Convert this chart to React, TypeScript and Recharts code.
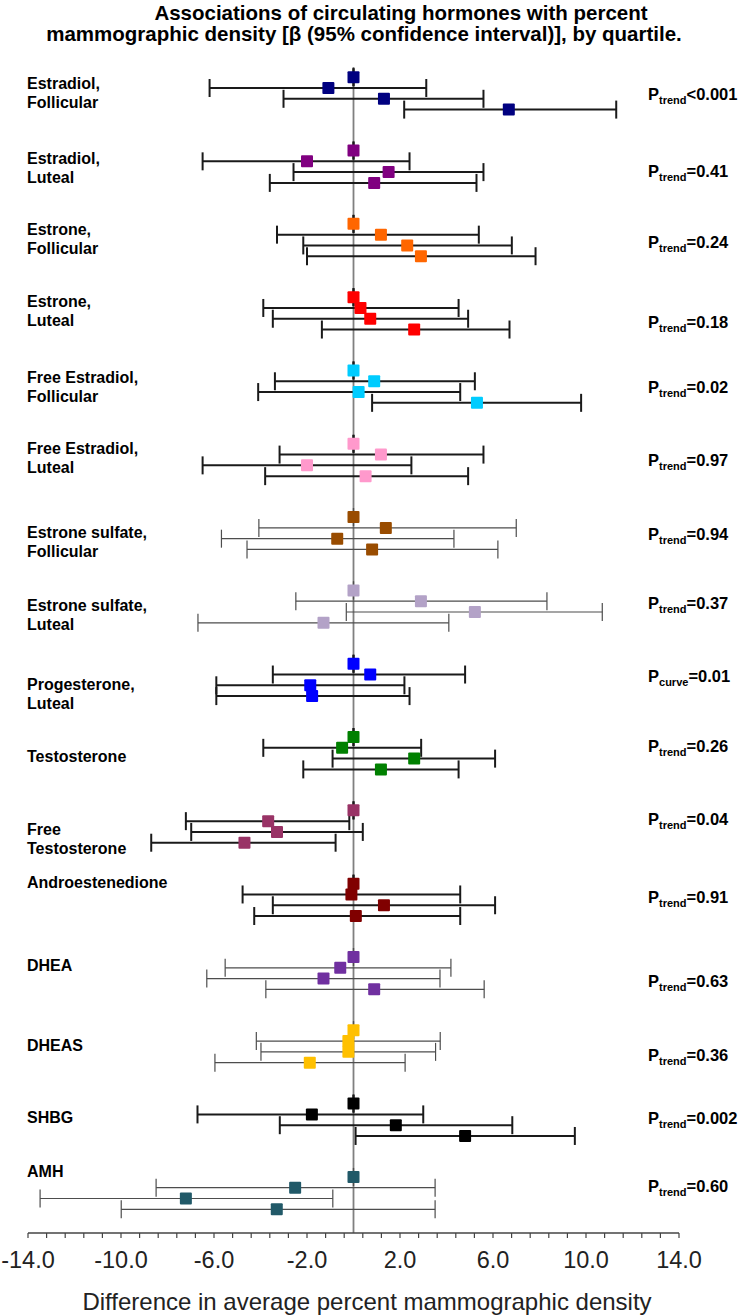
import React from 'react';
import { ScatterChart, Scatter, XAxis, YAxis, ErrorBar, ReferenceLine } from 'recharts';

// ---------- DATA ----------
const hormones: string[][] = [
  ['Estradiol,', 'Follicular'],
  ['Estradiol,', 'Luteal'],
  ['Estrone,', 'Follicular'],
  ['Estrone,', 'Luteal'],
  ['Free Estradiol,', 'Follicular'],
  ['Free Estradiol,', 'Luteal'],
  ['Estrone sulfate,', 'Follicular'],
  ['Estrone sulfate,', 'Luteal'],
  ['Progesterone,', 'Luteal'],
  ['Testosterone'],
  ['Free', 'Testosterone'],
  ['Androestenedione'],
  ['DHEA'],
  ['DHEAS'],
  ['SHBG'],
  ['AMH'],
];

const pSubscripts = ['trend', 'trend', 'trend', 'trend', 'trend', 'trend', 'trend', 'trend', 'curve', 'trend', 'trend', 'trend', 'trend', 'trend', 'trend', 'trend'];
const pValues = ['<0.001', '=0.41', '=0.24', '=0.18', '=0.02', '=0.97', '=0.94', '=0.37', '=0.01', '=0.26', '=0.04', '=0.91', '=0.63', '=0.36', '=0.002', '=0.60'];

// beta by quartile (Q1 = reference)
const beta: number[][] = [
  [0, -1.08, 1.31, 6.68],
  [0, -2.0, 1.51, 0.89],
  [0, 1.18, 2.31, 2.9],
  [0, 0.3, 0.72, 2.61],
  [0, 0.89, 0.22, 5.31],
  [0, 1.18, -2.0, 0.52],
  [0, 1.39, -0.7, 0.8],
  [0, 2.9, 5.22, -1.29],
  [0, 0.72, -1.86, -1.78],
  [0, -0.49, 2.61, 1.18],
  [0, -3.67, -3.29, -4.69],
  [0, -0.09, 1.31, 0.1],
  [0, -0.57, -1.29, 0.89],
  [0, -0.22, -0.22, -1.88],
  [0, -1.79, 1.82, 4.8],
  [0, -2.51, -7.21, -3.3],
];
const ciLow: (number | null)[][] = [
  [null, -6.19, -3.01, 2.18],
  [null, -6.49, -2.58, -3.6],
  [null, -3.29, -2.16, -2.0],
  [null, -3.88, -3.47, -1.36],
  [null, -3.38, -4.1, 0.8],
  [null, -3.18, -6.49, -3.8],
  [null, -4.07, -5.68, -4.58],
  [null, -2.48, -0.31, -6.69],
  [null, -3.47, -5.9, -5.9],
  [null, -3.88, -0.9, -2.16],
  [null, -7.21, -6.98, -8.7],
  [null, -4.77, -3.47, -4.27],
  [null, -5.52, -6.31, -3.77],
  [null, -4.18, -3.98, -5.96],
  [null, -6.71, -3.17, 0.09],
  [null, -8.49, -13.48, -9.99],
];
const ciHigh: (number | null)[][] = [
  [null, 3.13, 5.59, 11.3],
  [null, 2.41, 5.59, 5.29],
  [null, 5.39, 6.81, 7.83],
  [null, 4.52, 4.93, 6.71],
  [null, 5.22, 4.59, 9.79],
  [null, 5.59, 2.49, 4.93],
  [null, 7.0, 4.32, 6.21],
  [null, 8.32, 10.7, 4.1],
  [null, 4.8, 2.19, 2.41],
  [null, 2.91, 6.09, 4.52],
  [null, -0.18, 0.4, -0.77],
  [null, 4.59, 6.09, 4.59],
  [null, 4.19, 3.72, 5.62],
  [null, 3.73, 3.53, 2.22],
  [null, 3.0, 6.83, 9.52],
  [null, 3.51, -0.89, 3.51],
];

const xTicks = [-14, -13.2, -12.4, -11.6, -10.8, -10, -9.2, -8.4, -7.6, -6.8, -6, -5.2, -4.4, -3.6, -2.8, -2, -1.2, -0.4,
  0.4, 1.2, 2, 2.8, 3.6, 4.4, 5.2, 6, 6.8, 7.6, 8.4, 9.2, 10, 10.8, 11.6, 12.4, 13.2, 14];
const xLabelValues = [-14, -10, -6, -2, 2, 6, 10, 14];
const xLabelTexts = ['-14.0', '-10.0', '-6.0', '-2.0', '2.0', '6.0', '10.0', '14.0'];

// ---------- STYLE / LAYOUT ----------
const colors = ['#000080', '#800080', '#FF6600', '#FF0000', '#00CCFF', '#FF99CC', '#994C00', '#B3A2C7',
  '#0000FF', '#008000', '#993366', '#800000', '#7030A0', '#FFC000', '#000000', '#215968'];
const thinCI = [false, false, false, false, false, false, true, true, false, false, false, false, true, true, false, true];
// vertical pixel nudges of the side labels relative to group centre
const nameNudge = [-1, 1, -1, -2, 0, -2, 9, 8, 14, 3, 12, -17, -8, -1, -2, -22];
const pNudge = [1, 4, 2, 9, 1, 0, 1, -3, -4, -7, -7, -3, 8, 9, -2, -7];

const FONT = 'Liberation Sans, Arial, Helvetica, sans-serif';
const GROUP_STEP = 6.8; // row units between groups (quartile rows are 1 unit apart)
const Y_DOMAIN: [number, number] = [-0.95, 107.2];
const groupCenters = hormones.map((_, g) => g * GROUP_STEP + 1.5);

const seriesData = beta.map((row, g) =>
  row.map((b, q) => {
    const lo = ciLow[g][q];
    const hi = ciHigh[g][q];
    return {
      x: b,
      y: g * GROUP_STEP + q,
      err: [lo == null ? 0 : b - lo, hi == null ? 0 : hi - b],
    };
  })
);

const groupOf = (v: number) => Math.round((v - 1.5) / GROUP_STEP);

const LeftTick = (props: any) => {
  const { y, payload } = props;
  const g = groupOf(payload.value);
  const lines = hormones[g] || [];
  const lh = 19;
  const y0 = y + (nameNudge[g] || 0) - ((lines.length - 1) * lh) / 2;
  return (
    <text x={27} y={y0} fontFamily={FONT} fontSize={16} fontWeight="bold" fill="#000" textAnchor="start">
      {lines.map((l, i) => (
        <tspan key={i} x={27} y={y0 + i * lh} dy="0.35em">{l}</tspan>
      ))}
    </text>
  );
};

const RightTick = (props: any) => {
  const { y, payload } = props;
  const g = groupOf(payload.value);
  return (
    <text x={648} y={y + (pNudge[g] || 0)} dy="0.35em" fontFamily={FONT} fontSize={16.5} fontWeight="bold" fill="#000" textAnchor="start">
      <tspan>P</tspan>
      <tspan fontSize={11} dy={4}>{pSubscripts[g]}</tspan>
      <tspan dy={-4}>{pValues[g]}</tspan>
    </text>
  );
};

const XTick = (props: any) => {
  const { x, y, payload } = props;
  const idx = xLabelValues.findIndex((v) => Math.abs(v - payload.value) < 1e-6);
  if (idx < 0) return <g />;
  return (
    <text x={x} y={y + 28} textAnchor="middle" fontFamily={FONT} fontSize={23.5} fill="#222">
      {xLabelTexts[idx]}
    </text>
  );
};

const Square = (color: string) => (props: any) => {
  const { cx, cy } = props;
  if (cx == null || cy == null) return <g />;
  return <rect x={cx - 6} y={cy - 6} width={12} height={12} rx={1} ry={1} fill={color} />;
};

export default function App() {
  return (
    <div style={{ position: 'absolute', left: 0, top: 0, width: 742, height: 1316, background: '#fff' }}>
      <ScatterChart width={742} height={1316} margin={{ top: 67, right: 0, bottom: 0, left: 0 }}>
        <XAxis
          type="number"
          dataKey="x"
          domain={[-14, 14]}
          allowDataOverflow
          ticks={xTicks}
          interval={0}
          height={83}
          tickSize={5}
          axisLine={{ stroke: '#444', strokeWidth: 1.5 }}
          tickLine={{ stroke: '#444', strokeWidth: 1.2 }}
          tick={<XTick />}
        />
        <YAxis
          yAxisId="L"
          type="number"
          dataKey="y"
          domain={Y_DOMAIN}
          allowDataOverflow
          reversed
          width={28}
          ticks={groupCenters}
          interval={0}
          axisLine={false}
          tickLine={false}
          tick={<LeftTick />}
        />
        <YAxis
          yAxisId="R"
          orientation="right"
          type="number"
          domain={Y_DOMAIN}
          allowDataOverflow
          reversed
          width={63}
          ticks={groupCenters}
          interval={0}
          axisLine={false}
          tickLine={false}
          tick={<RightTick />}
        />
        <ReferenceLine yAxisId="L" x={0} stroke="#808080" strokeWidth={1.8} />
        {seriesData.map((d, g) => (
          <Scatter
            key={g}
            yAxisId="L"
            data={d}
            isAnimationActive={false}
            shape={Square(colors[g])}
          >
            <ErrorBar
              dataKey="err"
              direction="x"
              width={9}
              stroke={thinCI[g] ? '#4d4d4d' : '#1a1a1a'}
              strokeWidth={thinCI[g] ? 1.2 : 2}
              isAnimationActive={false}
            />
          </Scatter>
        ))}
      </ScatterChart>
      <svg width={742} height={1316} style={{ position: 'absolute', left: 0, top: 0, pointerEvents: 'none' }}>
        <text x={401} y={13} dy="0.35em" textAnchor="middle" fontFamily={FONT} fontSize={20.5} fontWeight="bold" fill="#000">
          Associations of circulating hormones with percent
        </text>
        <text x={364} y={34} dy="0.35em" textAnchor="middle" fontFamily={FONT} fontSize={20.5} fontWeight="bold" fill="#000">
          mammographic density [β (95% confidence interval)], by quartile.
        </text>
        <text x={367} y={1302} dy="0.35em" textAnchor="middle" fontFamily={FONT} fontSize={24} fill="#222">
          Difference in average percent mammographic density
        </text>
      </svg>
    </div>
  );
}
